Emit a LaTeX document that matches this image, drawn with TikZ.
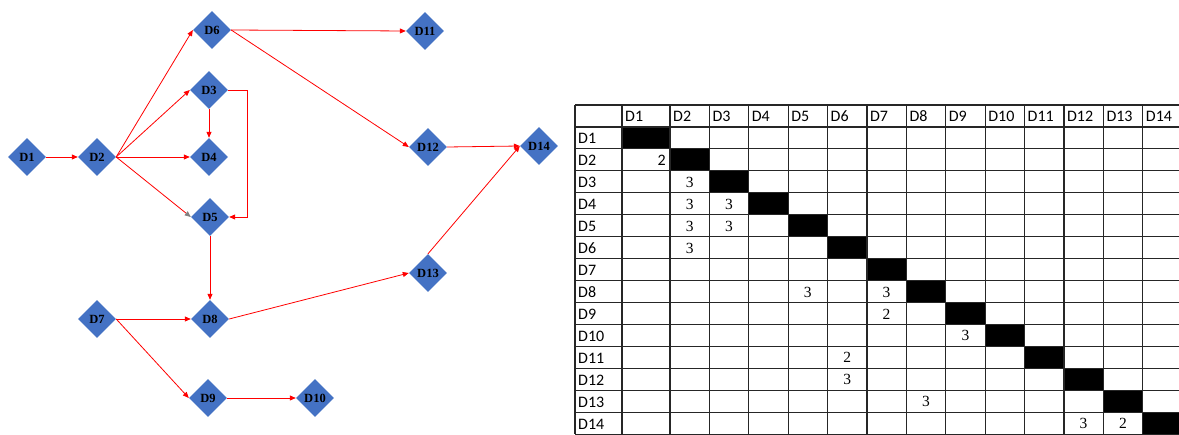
\documentclass[tikz,border=0pt]{standalone}
\usepackage{fontspec}
\setmainfont{Liberation Serif}
\newfontfamily\calfont{Carlito}
\usetikzlibrary{shapes.geometric,arrows.meta}
\definecolor{dblue}{HTML}{4472C4}
\begin{document}
\begin{tikzpicture}[x=1pt,y=-1pt,
  dnode/.style={diamond,fill=dblue,minimum width=38pt,minimum height=38pt,inner sep=0pt,aspect=1,
    font=\fontsize{12.5}{12.5}\selectfont\bfseries},
  link/.style={red,line width=0.8pt,-{Triangle[length=6pt,width=5pt]}},
  gridline/.style={line width=1.2pt,black!85},
  hdr/.style={anchor=base west,inner sep=0pt,font=\calfont\fontsize{16}{16}\selectfont},
  val/.style={anchor=base,inner sep=0pt,font=\fontsize{15.5}{15.5}\selectfont}
]
\useasboundingbox (0,0) rectangle (1179,435);
\fill[white] (0,0) rectangle (1179,435);

% ---------- graph ----------
\node[dnode] (D1) at (27,157) {D1};
\node[dnode] (D2) at (97,157) {D2};
\node[dnode] (D3) at (209,90) {D3};
\node[dnode] (D4) at (209,157) {D4};
\node[dnode] (D5) at (210,217) {D5};
\node[dnode] (D6) at (212,30) {D6};
\node[dnode] (D11) at (425,31) {D11};
\node[dnode] (D12) at (428,147) {D12};
\node[dnode] (D14) at (539,146) {D14};
\node[dnode] (D13) at (428,273) {D13};
\node[dnode] (D7) at (97,319) {D7};
\node[dnode] (D8) at (210,319) {D8};
\node[dnode] (D9) at (208,398) {D9};
\node[dnode] (D10) at (315,398) {D10};

\draw[link] (D1.east) -- (D2.west);
\draw[link] (D2.east) -- (D6.west);
\draw[link] (D2.east) -- (D3.west);
\draw[link] (D2.east) -- (D4.west);
\draw[red,line width=0.8pt,-{Triangle[length=6pt,width=5pt,color=gray]}] (D2.east) -- (D5.west);
\draw[link] (D3.south) -- (D4.north);
\draw[link] (D3.east) -- ++(19,0) |- (D5.east);
\draw[link] (D6.east) -- (D11.west);
\draw[link] (D6.east) -- (D12.west);
\draw[link] (D12.east) -- (D14.west);
\draw[link] (D13.north) -- (D14.west);
\draw[link] (D5.south) -- (D8.north);
\draw[link] (D8.east) -- (D13.west);
\draw[link] (D7.east) -- (D8.west);
\draw[link] (D7.east) -- (D9.west);
\draw[link] (D9.east) -- (D10.west);

% ---------- matrix ----------
\def\colx{{575,622,670,709.3,748.7,788.1,827.5,866.9,906.3,945.7,985.1,1024.5,1063.9,1103.3,1142.7,1182.1}}
\def\rh{21.95}
\foreach \i in {1,...,14}{
  \pgfmathsetmacro\xa{\colx[\i]}
  \pgfmathsetmacro\xb{\colx[\i+1]}
  \pgfmathsetmacro\ya{105+\rh*\i}
  \pgfmathsetmacro\yb{105+\rh*(\i+1)}
  \fill[black] (\xa,\ya) rectangle (\xb,\yb);
}
\foreach \c in {0,...,15}{
  \pgfmathsetmacro\xa{\colx[\c]}
  \draw[gridline] (\xa,105) -- (\xa,434.3);
}
\foreach \r in {0,...,15}{
  \pgfmathsetmacro\ya{105+\rh*\r}
  \draw[gridline] (575,\ya) -- (1182.1,\ya);
}
\foreach \i in {1,...,14}{
  \pgfmathsetmacro\xa{\colx[\i]}
  \pgfmathsetmacro\ya{105+\rh*\i}
  \node[hdr] (h\i) at (\xa+3,122) {D\i};
  \node[hdr] (r\i) at (578,\ya+17) {D\i};
}
\node[hdr,anchor=base east] (v21) at (666,{105+\rh*2+17}) {2};
\foreach \r/\c/\v in {3/2/3,4/2/3,4/3/3,5/2/3,5/3/3,6/2/3,8/5/3,8/7/3,9/7/2,10/9/3,11/6/2,12/6/3,13/8/3,14/12/3,14/13/2}{
  \pgfmathsetmacro\xl{\colx[\c]}
  \pgfmathsetmacro\xr{\colx[\c+1]}
  \pgfmathsetmacro\xm{(\xl+\xr)/2}
  \pgfmathsetmacro\ya{105+\rh*\r}
  \node[val] (v\r-\c) at (\xm,\ya+16.5) {\v};
}
\end{tikzpicture}
\end{document}
